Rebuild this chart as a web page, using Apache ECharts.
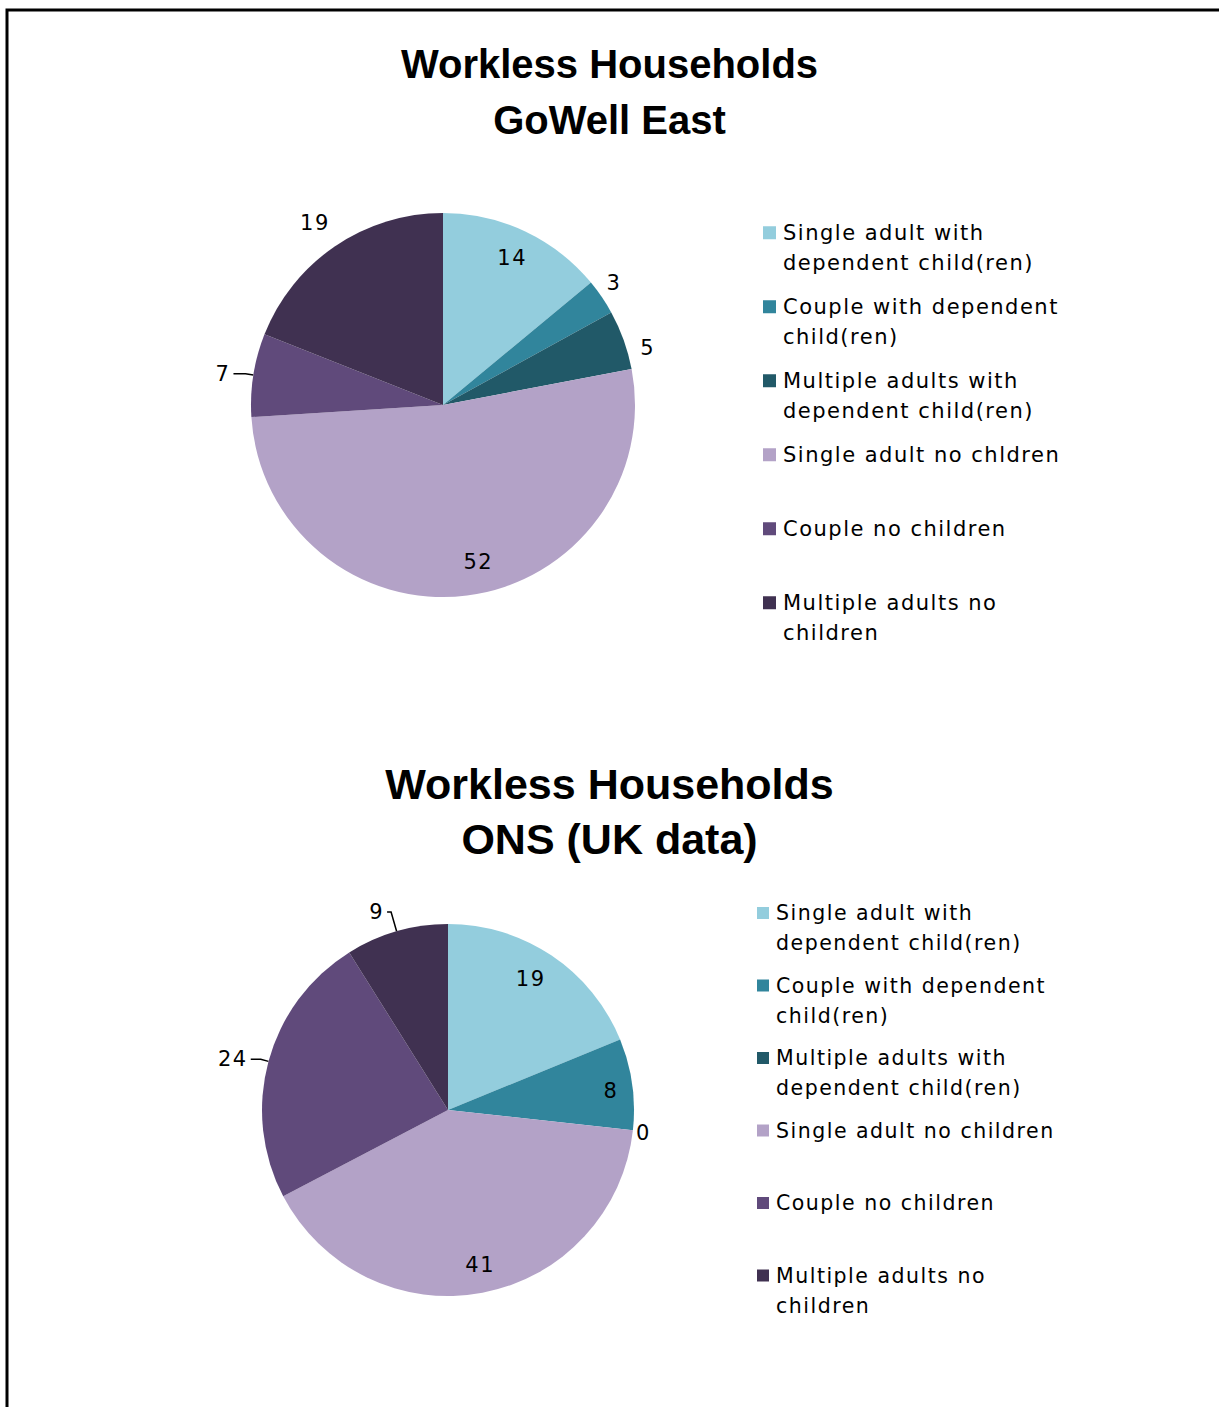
<!DOCTYPE html>
<html>
<head>
<meta charset="utf-8">
<title>Workless Households</title>
<script src="https://cdn.jsdelivr.net/npm/echarts@6/dist/echarts.min.js"></script>
<style>
  html, body { margin: 0; padding: 0; background: #fff; }
  #main { width: 1219px; height: 1407px; }
  /* the original legend/label font is set quite loose */
  #main text[style*="DejaVu"] { letter-spacing: 1.5px; }
</style>
</head>
<body>
<div id="main"></div>
<script>
  // categories (the GoWell legend keeps its "chldren" spelling)
  const eastNames = [
    'Single adult with dependent child(ren)',
    'Couple with dependent child(ren)',
    'Multiple adults with dependent child(ren)',
    'Single adult no chldren',
    'Couple no children',
    'Multiple adults no children'
  ];
  const ukNames = [
    'Single adult with dependent child(ren)',
    'Couple with dependent child(ren)',
    'Multiple adults with dependent child(ren)',
    'Single adult no children',
    'Couple no children',
    'Multiple adults no children'
  ];
  // values
  const eastValues = [14, 3, 5, 52, 7, 19];
  const ukValues = [19, 8, 0, 41, 24, 9];

  const colors = ['#93CDDD', '#31859C', '#215968', '#B3A2C7', '#604A7B', '#403151'];

  // how each label sits: inside the slice, or outside (with or without leader line)
  const eastLabelStyle = [
    { pos: 'inside' },
    { pos: 'outside', line: false, len: 8, len2: 0 },
    { pos: 'outside', line: false, len: 8, len2: 0 },
    { pos: 'inside' },
    { pos: 'outside', line: true, len: 8, len2: 12 },
    { pos: 'outside', line: false, len: 20, len2: 0 }
  ];
  const ukLabelStyle = [
    { pos: 'inside' },
    { pos: 'inside' },
    { pos: 'outside', line: false, len: 2, len2: 0 },
    { pos: 'inside' },
    { pos: 'outside', line: true, len: 8, len2: 10 },
    { pos: 'outside', line: true, len: 20, len2: 4 }
  ];
  // small label shifts (px) to sit where Excel put them
  const eastNudge = [[0, 0], [-5, -10], [6, 11], [15, -4], [0, 0], [9, -7]];
  const ukNudge = [[-5, 0], [7, 3], [-2, 3], [3, 0], [0, 0], [0, 0]];

  // legend wrapping, as in the original
  const legendWrap = {
    'Single adult with dependent child(ren)': 'Single adult with\ndependent child(ren)',
    'Couple with dependent child(ren)': 'Couple with dependent\nchild(ren)',
    'Multiple adults with dependent child(ren)': 'Multiple adults with\ndependent child(ren)',
    'Multiple adults no children': 'Multiple adults no\nchildren'
  };
  function wrapName(name) {
    const t = legendWrap[name] || name;
    // blank line on top keeps the first line level with the icon,
    // and every item is three lines tall so the spacing stays even
    return ' \n' + (t.indexOf('\n') < 0 ? t + '\n ' : t);
  }

  const labelFont = 'DejaVu Sans';

  function pieData(names, values) {
    return names.map((n, i) => ({ name: n, value: values[i], itemStyle: { color: colors[i] } }));
  }
  function labelData(names, values, styles) {
    return names.map((n, i) => {
      const s = styles[i];
      const item = { name: n, value: values[i], label: { position: s.pos } };
      if (s.pos === 'outside') {
        item.labelLine = { show: s.line, length: s.len, length2: s.len2 };
      }
      return item;
    });
  }

  function piePair(names, values, styles, nudge, center, r) {
    return [{
      type: 'pie',
      center: center,
      radius: r,
      startAngle: 90,
      clockwise: true,
      silent: true,
      avoidLabelOverlap: false,
      label: { show: false },
      labelLine: { show: false },
      itemStyle: { borderWidth: 0 },
      emphasis: { disabled: true },
      data: pieData(names, values)
    }, {
      // label layer: same pie, ring inner edge moves inside labels outwards
      type: 'pie',
      center: center,
      radius: [r * 0.66, r],
      startAngle: 90,
      clockwise: true,
      silent: true,
      avoidLabelOverlap: false,
      itemStyle: { color: 'rgba(0,0,0,0)', borderWidth: 0 },
      emphasis: { disabled: true },
      label: {
        show: true,
        formatter: '{c}',
        fontFamily: labelFont,
        fontSize: 21,
        color: '#000',
        distanceToLabelLine: 3
      },
      labelLine: { lineStyle: { color: '#000', width: 1.5 }, smooth: false },
      labelLayout: function (p) {
        const d = nudge[p.dataIndex];
        return { dx: d[0], dy: d[1] };
      },
      data: labelData(names, values, styles)
    }];
  }

  const eastPies = piePair(eastNames, eastValues, eastLabelStyle, eastNudge, [443, 405], 192);
  const ukPies = piePair(ukNames, ukValues, ukLabelStyle, ukNudge, [448, 1110], 186);

  const chart = echarts.init(document.getElementById('main'), null, { renderer: 'svg' });
  chart.setOption({
    backgroundColor: '#fff',
    animation: false,
    title: [{
      text: 'Workless Households\nGoWell East',
      left: 'center',
      top: 31,
      textStyle: {
        fontFamily: 'Liberation Sans',
        fontWeight: 'bold',
        fontSize: 40,
        lineHeight: 56,
        color: '#000'
      }
    }, {
      text: 'Workless Households\nONS (UK data)',
      left: 'center',
      top: 751,
      textStyle: {
        fontFamily: 'Liberation Sans',
        fontWeight: 'bold',
        fontSize: 43,
        lineHeight: 55,
        color: '#000'
      }
    }],
    legend: [{
      orient: 'vertical',
      left: 763,
      top: 187,
      padding: 0,
      icon: 'rect',
      itemWidth: 13,
      itemHeight: 13,
      itemGap: -17.5,
      selectedMode: false,
      data: eastNames,
      formatter: wrapName,
      textStyle: {
        fontFamily: labelFont,
        fontSize: 21,
        lineHeight: 30.5,
        color: '#000',
        padding: [0, 0, 0, 2]
      }
    }, {
      orient: 'vertical',
      left: 757,
      top: 868,
      padding: 0,
      icon: 'rect',
      itemWidth: 12,
      itemHeight: 12,
      itemGap: -17.5,
      selectedMode: false,
      data: ukNames,
      formatter: wrapName,
      textStyle: {
        fontFamily: labelFont,
        fontSize: 20.5,
        lineHeight: 30,
        color: '#000',
        padding: [0, 0, 0, 2]
      }
    }],
    graphic: [{
      // page frame (only top and left edges fall inside the picture)
      type: 'rect',
      silent: true,
      shape: { x: 7, y: 10, width: 1400, height: 1600 },
      style: { fill: 'none', stroke: '#000', lineWidth: 3 }
    }],
    series: [eastPies[0], ukPies[0], eastPies[1], ukPies[1]]
  });
  window.addEventListener('resize', () => chart.resize());
</script>
</body>
</html>
